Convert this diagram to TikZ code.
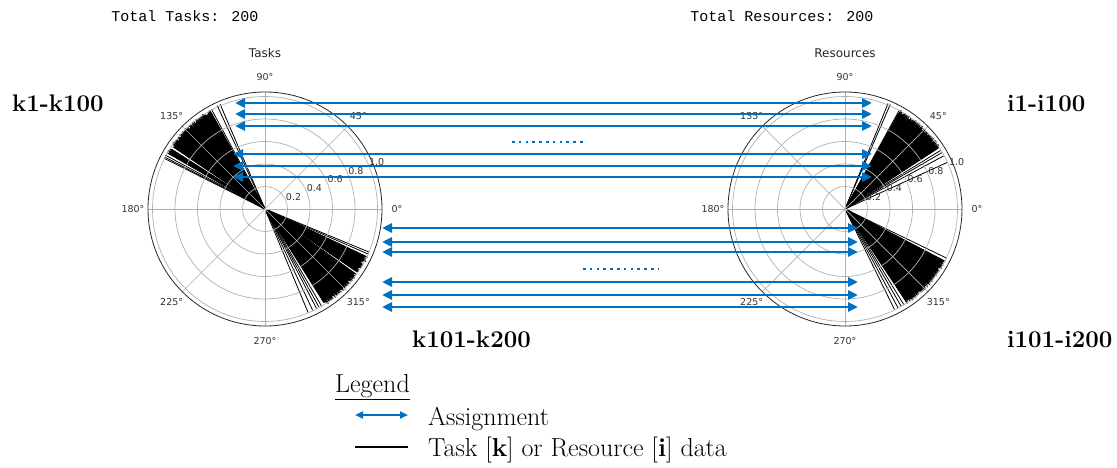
\documentclass[tikz,border=0pt]{standalone}
\usepackage{fontspec}
\newfontfamily\plotfont{DejaVu Sans}
\newfontfamily\codefont{Liberation Mono}
\usetikzlibrary{arrows.meta}

\definecolor{assignblue}{RGB}{0,112,192}
\definecolor{gridgray}{RGB}{176,176,176}

\tikzset{
  dataline/.style={black, line width=0.8pt},
  polargrid/.style={gridgray, line width=0.7pt},
  spine/.style={black!85, line width=0.8pt},
  ticklbl/.style={font=\plotfont\fontsize{9.5}{11}\selectfont, text=black!80, inner sep=0pt},
  titlelbl/.style={font=\plotfont\fontsize{12}{14}\selectfont, text=black!85, inner sep=0pt},
  codelbl/.style={font=\codefont\fontsize{15}{17}\selectfont, inner sep=0pt},
  rangelbl/.style={font=\fontsize{24}{28}\selectfont\bfseries, inner sep=0pt, anchor=base west},
  legendtxt/.style={font=\fontsize{26}{30}\selectfont, inner sep=0pt, anchor=base west},
  assign/.style={color=assignblue, line width=2.6pt, >={Triangle[length=10pt,width=9pt]}, <->},
  legarrow/.style={color=assignblue, line width=2pt, >={Triangle[length=8pt,width=7pt]}, <->},
  dotrow/.style={assignblue, line width=2.6pt, dash pattern=on 2.6pt off 4.2pt}
}

\begin{document}
\begin{tikzpicture}[x=1pt,y=1pt]
\useasboundingbox (0,0) rectangle (1117,-468);
\pgfmathsetseed{42}

% centres of the two polar plots
\coordinate (tc) at (265,-209);
\coordinate (rc) at (845,-209);

% dense parts of the data
\foreach \c/\s/\e in {tc/119/146, tc/147.2/150, tc/-25/-34.6, tc/-35.8/-58,
                     rc/33/61, rc/-27.5/-56.5}
  \fill (\c) -- ++(\s:110) arc (\s:\e:110) -- cycle;

% task data (k)
\foreach \a in {113.2,114.8} \draw[dataline] (tc) -- ++(\a:114);
\foreach \a in {119,119.25,...,146} \draw[dataline] (tc) -- ++(\a:{110+4*rnd});
\foreach \a in {147.2,147.45,...,150} \draw[dataline] (tc) -- ++(\a:{110+4*rnd});
\foreach \a in {151.6,152.6,153.3} \draw[dataline] (tc) -- ++(\a:113);
\foreach \a in {-22.5,-23.6} \draw[dataline] (tc) -- ++(\a:113);
\foreach \a in {-25,-25.25,...,-34.6} \draw[dataline] (tc) -- ++(\a:{110+4*rnd});
\foreach \a in {-35.8,-36.05,...,-58} \draw[dataline] (tc) -- ++(\a:{110+4*rnd});
\foreach \a in {-59.8,-61.2,-62.6,-64.8,-67.4} \draw[dataline] (tc) -- ++(\a:112);

% resource data (i)
\foreach \a in {66.6,67.8} \draw[dataline] (rc) -- ++(\a:114);
\foreach \a in {33,33.25,...,61} \draw[dataline] (rc) -- ++(\a:{110+4*rnd});
\foreach \a in {24.5,28.3,30.2,31.5} \draw[dataline] (rc) -- ++(\a:112);
\foreach \a in {-25.8} \draw[dataline] (rc) -- ++(\a:113);
\foreach \a in {-27.5,-27.75,...,-56.5} \draw[dataline] (rc) -- ++(\a:{110+4*rnd});
\foreach \a in {-58.4,-60,-61.8,-63.8} \draw[dataline] (rc) -- ++(\a:112);

% grids, spines and tick labels
\foreach \c/\p in {tc/t,rc/r} {
  \foreach \k in {1,...,5} \draw[polargrid] (\c) circle ({22.5*\k});
  \foreach \t in {0,45,...,315} \draw[polargrid] (\c) -- ++(\t:117);
  \draw[spine] (\c) circle (117);
  \foreach \t in {0,45,...,315}
    \path (\c) ++(\t:132) node[ticklbl] (\p ang\t) {\t°};
  \foreach \k/\v in {1/0.2,2/0.4,3/0.6,4/0.8,5/1.0}
    \path (\c) ++(22.5:{22.5*\k}) node[ticklbl, anchor=south west] (\p rad\k) {\v};
}

% headings
\node[codelbl] (ttot) at (185,-16) {Total Tasks: 200};
\node[codelbl] (rtot) at (782,-16) {Total Resources: 200};
\node[titlelbl] (ttitle) at (265,-53) {Tasks};
\node[titlelbl] (rtitle) at (845,-53) {Resources};

\node[rangelbl] (kup) at (12,-112) {k1-k100};
\node[rangelbl] (klo) at (412,-347) {k101-k200};
\node[rangelbl] (iup) at (1007,-112) {i1-i100};
\node[rangelbl] (ilo) at (1007,-347) {i101-i200};

% assignments
\foreach \y/\xl [count=\n] in {103/235,114/235,126/235,154/233,166/233,177/233} {
  \coordinate (ul\n) at (\xl,-\y);
  \coordinate (ur\n) at (872,-\y);
  \draw[assign] (ul\n) -- (ur\n);
}
\foreach \y [count=\n] in {228,242,252,282,295,307} {
  \coordinate (ll\n) at (382,-\y);
  \coordinate (lr\n) at (858,-\y);
  \draw[assign] (ll\n) -- (lr\n);
}
\coordinate (dua) at (512,-142);
\coordinate (dub) at (586,-142);
\draw[dotrow] (dua) -- (dub);
\coordinate (dla) at (583,-269);
\coordinate (dlb) at (658,-269);
\draw[dotrow] (dla) -- (dlb);

% legend
\node[legendtxt] (leg) at (335,-392) {\underline{Legend}};
\coordinate (la1) at (355,-415);
\coordinate (la2) at (408,-415);
\draw[legarrow] (la1) -- (la2);
\node[legendtxt] (lega) at (428,-425) {Assignment};
\coordinate (lb1) at (355,-447);
\coordinate (lb2) at (408,-447);
\draw[line width=2.2pt] (lb1) -- (lb2);
\node[legendtxt] (legb) at (428,-456) {Task [\textbf{k}] or Resource [\textbf{i}] data};
\end{tikzpicture}
\end{document}
